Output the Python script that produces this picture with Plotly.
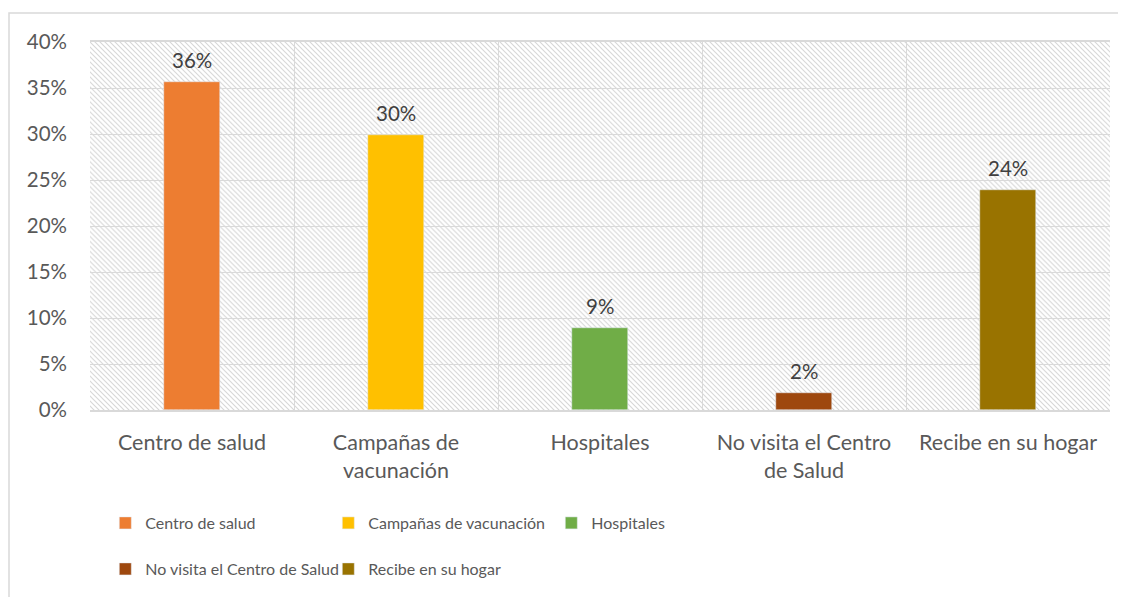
import base64

import plotly.graph_objects as go

categories = ["Centro de salud", "Campañas de vacunación", "Hospitales",
              "No visita el Centro de Salud", "Recibe en su hogar"]
tick_labels = ["Centro de salud", "Campañas de<br>vacunación", "Hospitales",
               "No visita el Centro<br>de Salud", "Recibe en su hogar"]
values = [0.356, 0.299, 0.089, 0.018, 0.239]
colors = ["#ED7D31", "#FFC000", "#70AD47", "#9E480E", "#997300"]
y_ticks = [0, 0.05, 0.10, 0.15, 0.20, 0.25, 0.30, 0.35, 0.40]

FONT = "Lato"
# the page body has an 8px margin, so the figure starts at (8, 8)
OFF = 8
W, H = 1126 - OFF, 597 - OFF
L, R, T, B = 90 - OFF, 16, 42 - OFF, 186
PW, PH = W - L - R, H - T - B

# diagonal hatch for the plot area (excel "wide downward diagonal")
hatch_svg = f"""<svg xmlns="http://www.w3.org/2000/svg" width="{PW}" height="{PH}">
<defs><pattern id="h" patternUnits="userSpaceOnUse" width="5" height="5">
<path d="M-1,-1 L6,6 M-1,4 L1,6 M4,-1 L6,1" stroke="#d6d6d6" stroke-width="1.1"/>
</pattern></defs>
<rect width="100%" height="100%" fill="#ffffff"/>
<rect width="100%" height="100%" fill="url(#h)"/>
</svg>"""
hatch_uri = "data:image/svg+xml;base64," + base64.b64encode(hatch_svg.encode()).decode()

fig = go.Figure()
for i, (cat, val, col) in enumerate(zip(categories, values, colors)):
    fig.add_bar(
        x=[cat], y=[val], name=cat, marker_color=col, width=0.275,
        hoverinfo="skip",
        legend="legend" if i < 3 else "legend2",
    )
    fig.add_annotation(
        x=cat, y=val, text=f"{val:.0%}", showarrow=False,
        yanchor="bottom", yshift=8,
        font=dict(family=FONT, size=20.5, color="#404040"),
    )

fig.add_layout_image(
    source=hatch_uri, xref="paper", yref="paper", x=0, y=1,
    sizex=1, sizey=1, xanchor="left", yanchor="top",
    sizing="stretch", layer="below",
)

# outer chart frame (page coords 9,13 -> beyond the right/bottom edge)
fig.add_shape(
    type="rect", xref="paper", yref="paper",
    x0=(9 - OFF - L) / PW, x1=(W + 10 - L) / PW,
    y0=-(B + 10) / PH, y1=(PH + T - (13 - OFF)) / PH,
    line=dict(color="#d9d9d9", width=1.5), layer="below",
)

legend_common = dict(
    orientation="h", xanchor="left", yanchor="middle",
    font=dict(family=FONT, size=16, color="#595959"),
    entrywidth=178, entrywidthmode="pixels",
    bgcolor="rgba(0,0,0,0)", itemclick=False, itemdoubleclick=False,
)

fig.update_layout(
    width=W, height=H,
    margin=dict(l=L, r=R, t=T, b=B),
    paper_bgcolor="white", plot_bgcolor="rgba(0,0,0,0)",
    barmode="overlay", bargap=0,
    font=dict(family=FONT, color="#595959"),
    legend=dict(x=0.015, y=-(523 - OFF - (T + PH)) / PH, **legend_common),
    legend2=dict(x=0.015, y=-(569 - OFF - (T + PH)) / PH, **legend_common),
    showlegend=True,
)
fig.update_xaxes(
    type="category", categoryorder="array", categoryarray=categories,
    tickvals=categories, ticktext=tick_labels, tickson="boundaries",
    range=[-0.5, 4.5], showgrid=True, gridcolor="#d9d9d9", gridwidth=1,
    showline=True, linecolor="#d9d9d9", linewidth=1.5, mirror=True,
    ticks="", ticklabelstandoff=12,
    tickfont=dict(family=FONT, size=21.5, color="#595959"),
)
fig.update_yaxes(
    range=[0, 0.40], tickvals=y_ticks, tickformat=".0%",
    showgrid=True, gridcolor="#d9d9d9", gridwidth=1, zeroline=False,
    showline=False, ticks="", ticklabelstandoff=22,
    tickfont=dict(family=FONT, size=20.5, color="#595959"),
)

fig.write_html("out.html")
